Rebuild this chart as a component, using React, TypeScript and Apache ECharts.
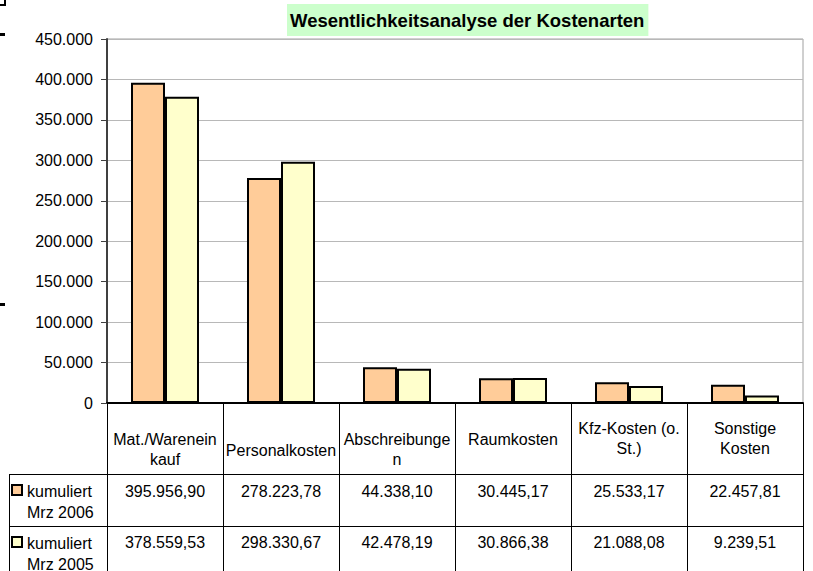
import React, { useEffect, useRef } from "react";
import * as echarts from "echarts";

const categories = [
  "Mat./Wareneinkauf",
  "Personalkosten",
  "Abschreibungen",
  "Raumkosten",
  "Kfz-Kosten (o. St.)",
  "Sonstige Kosten",
];
// header texts as wrapped in the original data table
const headerLabels = [
  "Mat./Warenein\nkauf",
  "Personalkosten",
  "Abschreibunge\nn",
  "Raumkosten",
  "Kfz-Kosten (o.\nSt.)",
  "Sonstige\nKosten",
];
const seriesNames = ["kumuliert Mrz 2006", "kumuliert Mrz 2005"];
const values2006 = [395956.9, 278223.78, 44338.1, 30445.17, 25533.17, 22457.81];
const values2005 = [378559.53, 298330.67, 42478.19, 30866.38, 21088.08, 9239.51];
const yMin = 0;
const yMax = 450000;
const yInterval = 50000;
const titleText = "Wesentlichkeitsanalyse der Kostenarten";

// layout (not data)
const headerPad = [11, 22, 11, 11, 0, 0];
const colors = ["#FFCC99", "#FFFFCC"];
const FONT = "'Liberation Sans', Arial, sans-serif";
const FS = 16;

function formatDE(v: number, dec: number): string {
  const fixed = v.toFixed(dec);
  const [intPart, decPart] = fixed.split(".");
  const withDots = intPart.replace(/\B(?=(\d{3})+(?!\d))/g, ".");
  return decPart ? withDots + "," + decPart : withDots;
}

export default function App() {
  const ref = useRef<HTMLDivElement>(null);
  useEffect(() => {
    if (!ref.current) return;
    const chart = echarts.init(ref.current, undefined, { renderer: "svg" });
    const legendGraphics: any[] = [];
    seriesNames.forEach((name, i) => {
      const baseY = 474 + i * 52;
      legendGraphics.push({
        type: "rect",
        shape: { x: 12, y: baseY + 11, width: 10, height: 10 },
        style: { fill: colors[i], stroke: "#000", lineWidth: 2 },
      });
      const parts = name.split(" ");
      legendGraphics.push({
        type: "text",
        x: 27,
        y: baseY + 7,
        style: {
          text: parts[0] + "\n" + parts.slice(1).join(" "),
          font: `${FS}px ${FONT}`,
          fill: "#000",
          lineHeight: 21,
          textAlign: "left",
          textVerticalAlign: "top",
        },
      });
    });
    const option: any = {
      animation: false,
      backgroundColor: "#fff",
      textStyle: { fontFamily: FONT },
      title: {
        text: titleText,
        left: 287,
        top: 4,
        backgroundColor: "#CCFFCC",
        padding: [7, 4, 6, 3],
        textStyle: { fontSize: 18.5, fontWeight: "bold", color: "#000", fontFamily: FONT },
      },
      grid: {
        left: 107,
        right: 10,
        top: 39,
        bottom: 168,
        containLabel: false,
        outerBoundsMode: "none",
        show: true,
        borderColor: "#a0a0a0",
        borderWidth: 1,
        backgroundColor: "transparent",
      },
      xAxis: [
        {
          type: "category",
          data: categories.map((c, i) => ({
            value: c,
            textStyle: { padding: [headerPad[i], 0, 0, 0] },
          })),
          axisLine: { show: true, lineStyle: { color: "#000", width: 2 } },
          axisTick: { show: true, length: 168, lineStyle: { color: "#000", width: 1 } },
          axisLabel: {
            interval: 0,
            margin: 15,
            fontSize: FS,
            lineHeight: 20,
            color: "#000",
            fontFamily: FONT,
            formatter: (_v: string, i: number) => headerLabels[i],
          },
          splitLine: { show: false },
        },
        {
          type: "category",
          gridIndex: 0,
          position: "bottom",
          offset: 71,
          data: values2006.map((v) => formatDE(v, 2)),
          axisLine: { show: false },
          axisTick: { show: false },
          axisLabel: { interval: 0, margin: 7, fontSize: FS, lineHeight: 20, color: "#000", fontFamily: FONT },
        },
        {
          type: "category",
          gridIndex: 0,
          position: "bottom",
          offset: 123,
          data: values2005.map((v) => formatDE(v, 2)),
          axisLine: { show: false },
          axisTick: { show: false },
          axisLabel: { interval: 0, margin: 6, fontSize: FS, lineHeight: 20, color: "#000", fontFamily: FONT },
        },
      ],
      yAxis: {
        type: "value",
        min: yMin,
        max: yMax,
        interval: yInterval,
        axisLine: { show: true, lineStyle: { color: "#404040", width: 2 } },
        axisTick: { show: true, length: 6, lineStyle: { color: "#404040", width: 1 } },
        axisLabel: {
          margin: 14,
          fontSize: FS,
          color: "#000",
          fontFamily: FONT,
          formatter: (v: number) => formatDE(v, 0),
        },
        splitLine: { show: true, lineStyle: { color: "#b8b8b8", width: 1 } },
      },
      series: [
        {
          name: seriesNames[0],
          type: "bar",
          data: values2006,
          barWidth: 34,
          barGap: "0%",
          itemStyle: { color: colors[0], borderColor: "#000", borderWidth: 2 },
        },
        {
          name: seriesNames[1],
          type: "bar",
          data: values2005,
          barWidth: 34,
          barGap: "0%",
          itemStyle: { color: colors[1], borderColor: "#000", borderWidth: 2 },
        },
      ],
      graphic: [
        { type: "line", shape: { x1: 9, y1: 474.5, x2: 803, y2: 474.5 }, style: { stroke: "#000", lineWidth: 1 } },
        { type: "line", shape: { x1: 9, y1: 526.5, x2: 803, y2: 526.5 }, style: { stroke: "#000", lineWidth: 1 } },
        { type: "line", shape: { x1: 9.5, y1: 474, x2: 9.5, y2: 571 }, style: { stroke: "#000", lineWidth: 1 } },
        { type: "rect", shape: { x: 4, y: 0, width: 2, height: 6 }, style: { fill: "#000" } },
        { type: "rect", shape: { x: 0, y: 4, width: 6, height: 2 }, style: { fill: "#000" } },
        { type: "rect", shape: { x: 0, y: 33, width: 5, height: 3 }, style: { fill: "#000" } },
        { type: "rect", shape: { x: 0, y: 303, width: 5, height: 3 }, style: { fill: "#000" } },
        ...legendGraphics,
      ],
    };
    chart.setOption(option);
    return () => chart.dispose();
  }, []);
  return (
    <div
      ref={ref}
      style={{ position: "fixed", left: 0, top: 0, width: 813, height: 571, background: "#fff" }}
    />
  );
}
